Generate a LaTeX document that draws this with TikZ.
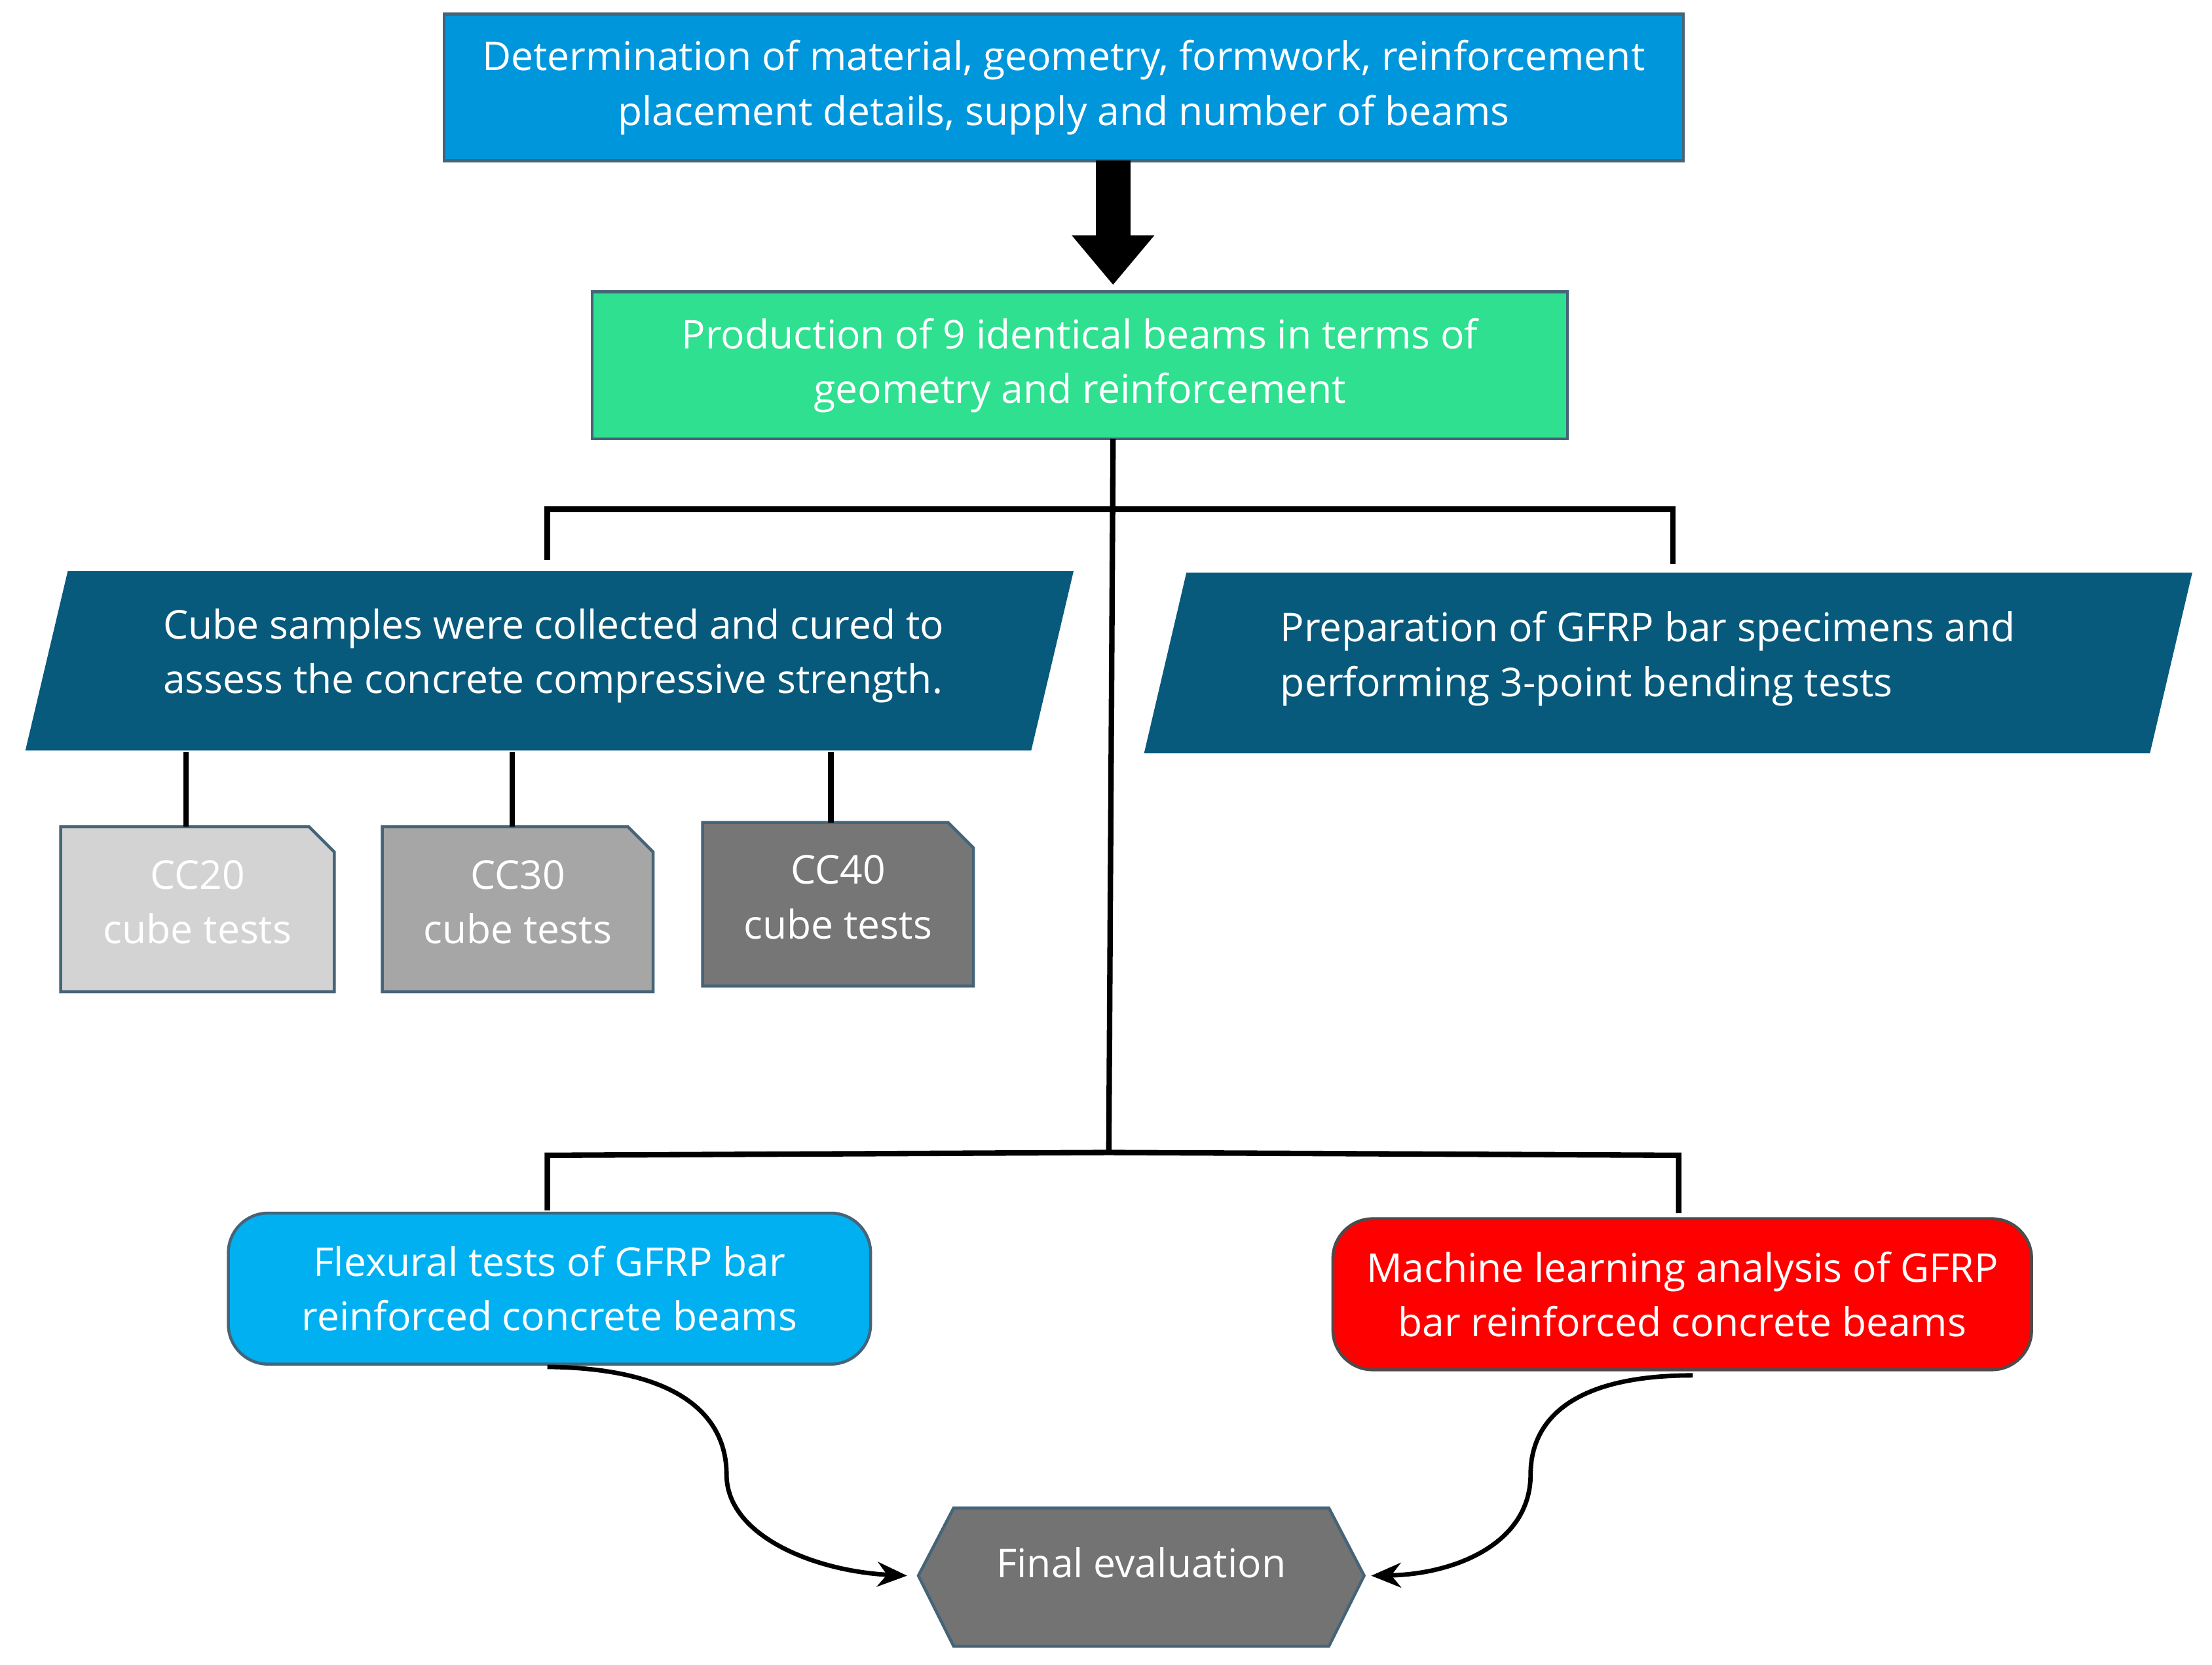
\documentclass[tikz,border=0pt]{standalone}
\usepackage{fontspec}
\setmainfont{Open Sans}
\usetikzlibrary{arrows.meta}
\definecolor{topb}{RGB}{0,150,220}
\definecolor{grn}{RGB}{46,224,143}
\definecolor{teal}{RGB}{8,90,124}
\definecolor{bord}{RGB}{70,100,120}
\definecolor{cyanb}{RGB}{0,176,240}
\begin{document}
\begin{tikzpicture}[x=0.01cm,y=-0.01cm,
  txt/.style={font=\fontsize{8}{11}\selectfont,text=white,align=center,inner sep=0},
  box/.style={draw=bord,line width=0.6pt},
  ln/.style={line width=1.1pt,black},
  cv/.style={line width=0.9pt,-{Stealth[length=6pt,width=5pt]}}]
\useasboundingbox (0,0) rectangle (1568,1180);
% top
\node[box,fill=topb,minimum width=8.78cm,minimum height=1.04cm,txt] (top) at (754,62) {Determination of material, geometry, formwork, reinforcement\\placement details, supply and number of beams};
\node[box,fill=grn,minimum width=6.91cm,minimum height=1.04cm,txt] (prod) at (765.5,259) {Production of 9 identical beams in terms of\\geometry and reinforcement};
\coordinate (a1) at (789,114);
\coordinate (a2) at (789,202);
\draw[line width=7pt,-{Triangle[length=10pt,width=16pt]}] (a1) -- (a2);
% tree
\coordinate (p0) at (789,311);
\coordinate (jm) at (788,361);
\coordinate (jb) at (786,817);
\coordinate (hl) at (388,361);
\coordinate (hr) at (1186,361);
\coordinate (hlb) at (388,397);
\coordinate (hrb) at (1186,400);
\draw[ln] (p0) -- (jb);
\draw[ln] (hlb) -- (hl) -- (hr) -- (hrb);
\coordinate (bl) at (388,819);
\coordinate (br) at (1190,819);
\coordinate (blb) at (388,858);
\coordinate (brb) at (1190,860);
\draw[ln] (blb) -- (bl) -- (jb) -- (br) -- (brb);
% parallelograms
\fill[teal] (48,405) -- (761,405) -- (731,532) -- (18,532) -- cycle;
\node[txt,align=left,anchor=west] (cube) at (115,465) {Cube samples were collected and cured to\\assess the concrete compressive strength.};
\fill[teal] (841,406) -- (1554,406) -- (1524,534) -- (811,534) -- cycle;
\node[txt,align=left,anchor=west] (gfrp) at (907,467) {Preparation of GFRP bar specimens and\\performing 3-point bending tests};
% cubes
\foreach \x/\y/\w/\h/\c/\n/\lab in {43/586/194/117/{rgb,255:red,211;green,211;blue,211}/c20/CC20, 271/586/192/117/{rgb,255:red,166;green,166;blue,166}/c30/CC30, 498/583/192/116/{rgb,255:red,118;green,118;blue,118}/c40/CC40}{
  \draw[box,fill=\c] (\x,\y) -- (\x+\w-18,\y) -- (\x+\w,\y+18) -- (\x+\w,\y+\h) -- (\x,\y+\h) -- cycle;
  \node[txt] (\n) at (\x+\w/2,\y+\h/2-5) {\lab\\cube tests};
}
\foreach \x/\t in {132/586,363/586,589/583}{
  \coordinate (u\x) at (\x,533); \coordinate (d\x) at (\x,\t);
  \draw[ln] (u\x) -- (d\x);}
% bottom boxes
\node[box,fill=cyanb,rounded corners=8pt,minimum width=4.55cm,minimum height=1.07cm,txt] (flex) at (389.5,913.5) {Flexural tests of GFRP bar\\reinforced concrete beams};
\node[draw=black!70,line width=0.6pt,fill=red,rounded corners=8pt,minimum width=4.95cm,minimum height=1.07cm,txt] (ml) at (1192.5,917.5) {Machine learning analysis of GFRP\\bar reinforced concrete beams};
% hexagon
\fill[gray!90!black,draw=bord,line width=0.6pt] (651,1117) -- (676,1069) -- (942,1069) -- (967,1117) -- (942,1167) -- (676,1167) -- cycle;
\node[txt] (fin) at (809,1108) {Final evaluation};
\coordinate (fl) at (643,1117);
\coordinate (fr) at (972,1117);
\coordinate (s1) at (388,969);
\coordinate (s2) at (1200,975);
\draw[cv] (s1) .. controls (490,970) and (515,1010) .. (515,1045) .. controls (515,1090) and (580,1114) .. (fl);
\draw[cv] (s2) .. controls (1110,975) and (1085,1010) .. (1085,1045) .. controls (1085,1095) and (1030,1116) .. (fr);
\end{tikzpicture}
\end{document}
